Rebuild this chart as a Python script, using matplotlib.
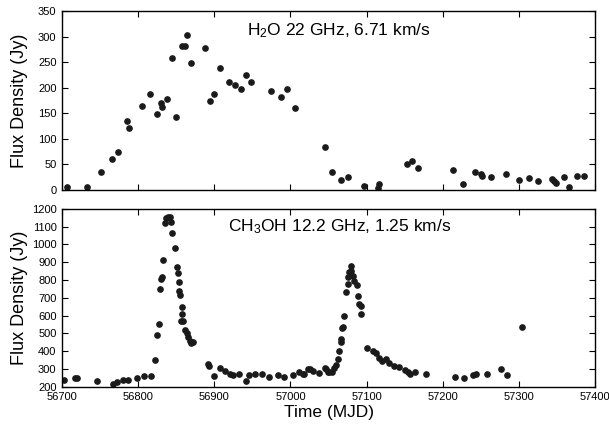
import matplotlib
matplotlib.use("Agg")
import matplotlib.pyplot as plt

plt.rcParams['font.family'] = ['Liberation Sans', 'DejaVu Sans']
plt.rcParams['mathtext.default'] = 'regular'

# H2O 22 GHz maser, 6.71 km/s
h2o_mjd = [56706, 56733, 56751, 56766, 56774, 56785, 56788, 56805, 56815, 56825,
           56830, 56831, 56838, 56845, 56850, 56857, 56861, 56864, 56869, 56888,
           56894, 56900, 56907, 56919, 56927, 56935, 56942, 56948, 56975, 56987,
           56995, 57006, 57045, 57054, 57067, 57076, 57097, 57116, 57115, 57153,
           57160, 57167, 57214, 57227, 57242, 57250, 57252, 57263, 57283, 57300,
           57313, 57325, 57344, 57346, 57349, 57359, 57366, 57377, 57386]
h2o_flux = [5, 5, 35, 60, 75, 135, 122, 165, 187, 148,
            171, 162, 179, 258, 142, 281, 282, 304, 249, 278,
            175, 187, 238, 212, 205, 197, 226, 212, 194, 182,
            198, 161, 84, 35, 19, 25, 8, 12, 3, 50,
            56, 44, 40, 12, 35, 32, 27, 26, 31, 20,
            23, 18, 22, 18, 14, 25, 6, 27, 27]

# CH3OH 12.2 GHz maser, 1.25 km/s
ch3oh_mjd = [56703, 56717, 56720, 56746, 56767, 56772, 56780, 56787, 56798, 56807,
             56817, 56822, 56824, 56827, 56829, 56830, 56831, 56832, 56835, 56837,
             56839, 56842, 56843, 56845, 56848, 56851, 56852, 56853, 56854, 56855,
             56857, 56858, 56856, 56859, 56862, 56864, 56865, 56868, 56869, 56872,
             56892, 56893, 56899, 56907, 56914, 56920, 56925, 56932, 56941, 56946,
             56954, 56962, 56972, 56983, 56991, 57003, 57011, 57017, 57023, 57018,
             57025, 57030, 57037, 57045, 57047, 57049, 57050, 57054, 57057, 57060,
             57063, 57064, 57066, 57067, 57068, 57069, 57070, 57073, 57075, 57076,
             57077, 57079, 57080, 57082, 57084, 57087, 57089, 57090, 57092, 57093,
             57101, 57109, 57112, 57116, 57120, 57125, 57130, 57136, 57142, 57151,
             57155, 57157, 57164, 57178, 57216, 57228, 57240, 57244, 57258, 57277,
             57284, 57304]
ch3oh_flux = [241, 249, 249, 234, 219, 226, 238, 241, 251, 260,
              262, 352, 493, 556, 748, 804, 819, 911, 1121, 1151,
              1155, 1155, 1129, 1065, 982, 872, 840, 789, 738, 714,
              648, 611, 568, 568, 519, 500, 481, 457, 444, 453,
              331, 316, 264, 309, 290, 275, 269, 271, 234, 269,
              275, 273, 258, 268, 258, 268, 283, 273, 301, 271,
              301, 288, 277, 307, 301, 284, 282, 281, 305, 324,
              354, 404, 451, 468, 532, 536, 600, 735, 780, 817,
              847, 881, 851, 825, 795, 772, 712, 667, 652, 611,
              419, 399, 393, 365, 344, 356, 335, 316, 313, 296,
              281, 275, 286, 273, 258, 251, 269, 275, 275, 301,
              269, 534]

fig = plt.figure(figsize=(6.09, 4.28), dpi=100)
ax1 = fig.add_axes([0.102, 0.556, 0.875, 0.418])
ax2 = fig.add_axes([0.102, 0.096, 0.875, 0.416])

dot = dict(marker='o', linestyle='none', color='#1a1a1a', markersize=3.8)
ax1.plot(h2o_mjd, h2o_flux, **dot)
ax2.plot(ch3oh_mjd, ch3oh_flux, **dot)

ax1.set_ylim(0, 350)
ax1.set_yticks(range(0, 351, 50))
ax2.set_ylim(200, 1200)
ax2.set_yticks(range(200, 1201, 100))

for ax in (ax1, ax2):
    ax.set_xlim(56700, 57400)
    ax.set_xticks(range(56700, 57401, 100))
    ax.tick_params(direction='in', top=True, right=True, labelsize=8,
                   length=4, width=0.8, pad=4)
    ax.set_ylabel("Flux Density (Jy)", fontsize=13)
    ax.yaxis.set_label_coords(-0.064, 0.5)
    for s in ax.spines.values():
        s.set_linewidth(1.0)

ax1.tick_params(labelbottom=False)
ax2.set_xlabel("Time (MJD)", fontsize=12.5, labelpad=2)

ax1.text(0.52, 0.945, "H$_2$O 22 GHz, 6.71 km/s", transform=ax1.transAxes,
         ha='center', va='top', fontsize=12.5)
ax2.text(0.52, 0.955, "CH$_3$OH 12.2 GHz, 1.25 km/s", transform=ax2.transAxes,
         ha='center', va='top', fontsize=12.5)

fig.savefig("out.png", dpi=100)
